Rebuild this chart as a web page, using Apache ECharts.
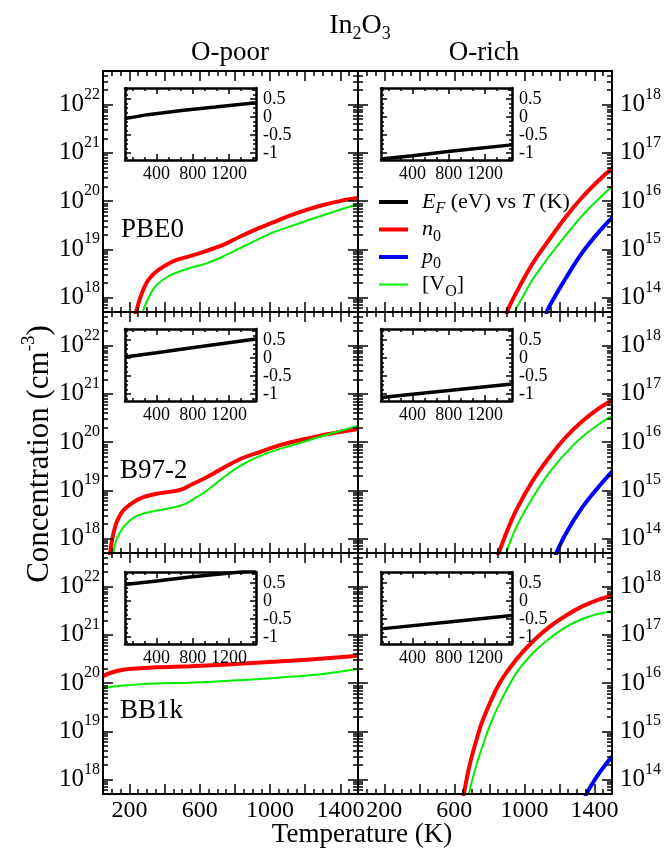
<!DOCTYPE html>
<html>
<head>
<meta charset="utf-8">
<script src="https://cdn.jsdelivr.net/npm/echarts@6/dist/echarts.min.js"></script>
</head>
<body style="margin:0;background:#fff">
<div id="main" style="width:664px;height:849px"></div>
<script>
// [T (K), concentration (cm^-3)]
var pbe0PoorN0 = [[232,4.1e17],[241,5.4e17],[260,9.5e17],[279,1.45e18],[307,2.3e18],[355,3.5e18],[412,4.8e18],[469,6.0e18],[544,7.2e18],[639,9.3e18],[733,1.23e19],[828,1.82e19],[923,2.63e19],[1017,3.63e19],[1112,5.0e19],[1207,6.6e19],[1302,8.3e19],[1397,1.0e20],[1500,1.17e20]];
var pbe0PoorVO = [[272,4.0e17],[279,5.4e17],[298,8.1e17],[327,1.32e18],[355,1.82e18],[412,2.63e18],[469,3.3e18],[544,4.1e18],[639,5.1e18],[733,7.1e18],[828,1.05e19],[923,1.55e19],[1017,2.24e19],[1112,2.95e19],[1207,3.9e19],[1302,5.1e19],[1397,6.6e19],[1500,8.7e19]];
var b972PoorN0 = [[87,4.0e17],[90,5.0e17],[99,8.3e17],[109,1.26e18],[128,2.2e18],[165,3.8e18],[222,5.6e18],[279,7.2e18],[355,8.5e18],[450,9.5e18],[506,1.07e19],[544,1.26e19],[639,1.86e19],[733,2.9e19],[828,4.4e19],[923,5.9e19],[1017,7.8e19],[1112,9.8e19],[1207,1.17e20],[1302,1.41e20],[1397,1.62e20],[1500,1.86e20]];
var b972PoorVO = [[106,4.0e17],[109,5.0e17],[118,7.6e17],[128,9.8e17],[147,1.35e18],[165,1.7e18],[222,2.7e18],[279,3.3e18],[355,3.8e18],[450,4.4e18],[506,5.0e18],[544,5.9e18],[639,9.8e18],[733,1.82e19],[828,3.16e19],[923,4.8e19],[1017,6.5e19],[1112,8.3e19],[1207,1.05e20],[1302,1.35e20],[1397,1.7e20],[1500,2.19e20]];
var bb1kPoorN0 = [[50,1.38e20],[90,1.62e20],[165,1.9e20],[260,2.04e20],[355,2.14e20],[544,2.24e20],[733,2.4e20],[923,2.63e20],[1112,2.9e20],[1302,3.24e20],[1500,3.7e20]];
var bb1kPoorVO = [[50,7.6e19],[90,8.3e19],[165,8.9e19],[355,9.8e19],[544,1.02e20],[733,1.1e20],[923,1.2e20],[1112,1.35e20],[1302,1.55e20],[1500,1.95e20]];
var pbe0RichN0 = [[895,4.0e13],[904,5.4e13],[952,1.23e14],[1046,5.0e14],[1141,1.58e15],[1236,4.7e15],[1330,1.2e16],[1425,2.7e16],[1500,4.8e16]];
var pbe0RichVO = [[940,4.0e13],[948,5.4e13],[989,1.0e14],[1046,2.34e14],[1141,7.1e14],[1236,1.95e15],[1330,5.0e15],[1425,1.12e16],[1500,2.0e16]];
var pbe0RichP0 = [[1124,4.0e13],[1131,5.4e13],[1179,1.12e14],[1236,2.5e14],[1330,8.5e14],[1425,2.3e15],[1500,4.5e15]];
var b972RichN0 = [[845,4.0e13],[853,5.0e13],[895,1.26e14],[952,3.8e14],[1046,1.55e15],[1141,4.8e15],[1236,1.26e16],[1330,2.7e16],[1425,5.0e16],[1500,7.4e16]];
var b972RichVO = [[887,4.0e13],[895,5.0e13],[952,1.66e14],[1046,6.9e14],[1141,2.3e15],[1236,5.9e15],[1330,1.29e16],[1425,2.34e16],[1500,3.5e16]];
var b972RichP0 = [[1175,4.0e13],[1182,5.0e13],[1236,1.26e14],[1330,4.4e14],[1425,1.2e15],[1500,2.45e15]];
var bb1kRichN0 = [[650,3.5e13],[654,4.9e13],[686,1.9e14],[724,6.2e14],[762,1.7e15],[857,9.8e15],[951,3.0e16],[1046,7.2e16],[1141,1.45e17],[1236,2.5e17],[1330,3.9e17],[1425,5.4e17],[1500,6.5e17]];
var bb1kRichVO = [[678,3.5e13],[682,4.9e13],[724,1.9e14],[762,5.0e14],[800,1.23e15],[857,3.7e15],[951,1.55e16],[1046,4.1e16],[1141,8.3e16],[1236,1.45e17],[1330,2.14e17],[1425,2.75e17],[1500,3.1e17]];
var bb1kRichP0 = [[1345,3.5e13],[1353,4.9e13],[1425,1.32e14],[1500,3.0e14]];

// insets: [T (K), E_F (eV)]
var pbe0PoorEF = [[50,-0.05],[300,0.06],[700,0.18],[1050,0.27],[1500,0.39]];
var b972PoorEF = [[50,0.02],[400,0.14],[770,0.27],[1500,0.52]];
var bb1kPoorEF = [[50,0.45],[400,0.55],[770,0.66],[1215,0.77],[1500,0.85]];
var pbe0RichEF = [[50,-1.17],[400,-1.08],[816,-0.96],[1500,-0.78]];
var b972RichEF = [[50,-1.10],[800,-0.91],[1500,-0.73]];
var bb1kRichEF = [[50,-0.78],[800,-0.59],[1500,-0.41]];

// ticks and labels
var xMajor = [200, 400, 600, 800, 1000, 1200, 1400];
var xMinor = [100, 150, 250, 300, 350, 450, 500, 550, 650, 700, 750, 850, 900, 950, 1050, 1100, 1150, 1250, 1300, 1350, 1450];
var xLabels = [200, 600, 1000, 1400];
var yExpPoor = [18, 19, 20, 21, 22];
var yExpRich = [14, 15, 16, 17, 18];
var yRangePoor = [5e17, 5e22];
var yRangeRich = [5e13, 5e18];
var insetXMajor = [400, 800, 1200];
var insetXMinor = [133.33, 266.67, 533.33, 666.67, 933.33, 1066.67, 1333.33, 1466.67];
var insetYMajor = [-1, -0.5, 0, 0.5];
var insetYMinor = [-1.125, -0.875, -0.75, -0.625, -0.375, -0.25, -0.125, 0.125, 0.25, 0.375, 0.625, 0.75];
var insetYRange = [-1.2, 0.8];

var FONT = 'Liberation Serif';
var colLeft = [103, 358], rowTop = [71, 312, 553], W = 255, H = 241;
var insetLeft = [125, 381], insetTop = [88, 329, 572], IW = 131, IH = 72;

var panels = [
  {col: 0, row: 0, curves: [['n0', pbe0PoorN0], ['VO', pbe0PoorVO]], ef: pbe0PoorEF},
  {col: 1, row: 0, curves: [['n0', pbe0RichN0], ['p0', pbe0RichP0], ['VO', pbe0RichVO]], ef: pbe0RichEF},
  {col: 0, row: 1, curves: [['n0', b972PoorN0], ['VO', b972PoorVO]], ef: b972PoorEF},
  {col: 1, row: 1, curves: [['n0', b972RichN0], ['p0', b972RichP0], ['VO', b972RichVO]], ef: b972RichEF},
  {col: 0, row: 2, curves: [['n0', bb1kPoorN0], ['VO', bb1kPoorVO]], ef: bb1kPoorEF},
  {col: 1, row: 2, curves: [['n0', bb1kRichN0], ['p0', bb1kRichP0], ['VO', bb1kRichVO]], ef: bb1kRichEF}
];

var lineColors = {n0: '#ff0000', p0: '#0000ff', VO: '#00ee00', EF: '#000000'};
var lineWidths = {n0: 4, p0: 4, VO: 2, EF: 3.5};

function logMinor(lo, hi) {
  var a = Math.log10(lo), b = Math.log10(hi), out = [];
  for (var n = Math.floor(a); n < Math.ceil(b); n++) {
    for (var k = 2; k <= 9; k++) {
      var v = n + Math.log10(k);
      if (v >= a - 1e-9 && v <= b + 1e-9) out.push(v);
    }
  }
  return out;
}

var supRich = {sup: {fontFamily: FONT, fontSize: 16, color: '#000', padding: [0, 0, 20, 0]}};
var subRich = {
  sub: {fontFamily: FONT, fontSize: 16, color: '#000', padding: [14, 0, 0, 0]},
  isub: {fontFamily: FONT, fontSize: 16, fontStyle: 'italic', color: '#000', padding: [14, 0, 0, 0]},
  i: {fontFamily: FONT, fontSize: 22, fontStyle: 'italic', color: '#000'}
};

var grids = [], xAxes = [], yAxes = [], series = [];

function tickAxis(g, pos, min, max, ticks, len, showLine, lineW, labels, label) {
  var ax = {
    type: 'value', gridIndex: g, position: pos, min: min, max: max,
    axisLine: {show: showLine, onZero: false, lineStyle: {color: '#000', width: lineW}},
    axisTick: {show: true, inside: true, length: len, customValues: ticks, lineStyle: {color: '#000', width: 1.5}},
    axisLabel: {show: false},
    splitLine: {show: false},
    z: 5
  };
  if (labels) {
    ax.axisLabel = Object.assign({show: true, customValues: labels, color: '#000', fontFamily: FONT}, label);
  }
  return ax;
}

panels.forEach(function (p) {
  var g = grids.length;
  grids.push({left: colLeft[p.col], top: rowTop[p.row], width: W, height: H});
  var range = p.col === 0 ? yRangePoor : yRangeRich;
  var exps = p.col === 0 ? yExpPoor : yExpRich;
  var lo = Math.log10(range[0]), hi = Math.log10(range[1]);
  var bottomRow = p.row === 2;
  var xi = xAxes.length, yi = yAxes.length;

  xAxes.push(tickAxis(g, 'bottom', 50, 1500, xMajor, 10, true, 2,
    bottomRow ? xLabels : null, {fontSize: 24, margin: 5, formatter: function (v) { return String(v); }}));
  xAxes.push(tickAxis(g, 'bottom', 50, 1500, xMinor, 5, false, 2));
  xAxes.push(tickAxis(g, 'top', 50, 1500, xMajor, 10, true, 2));
  xAxes.push(tickAxis(g, 'top', 50, 1500, xMinor, 5, false, 2));

  // data axis (log), hidden; the overlay axes below draw its ticks
  yAxes.push({type: 'log', logBase: 10, gridIndex: g, min: range[0], max: range[1], show: false});
  var fmt = function (v) { return '10{sup|' + Math.round(v) + '}'; };
  yAxes.push(tickAxis(g, 'left', lo, hi, exps, 10, true, 2,
    p.col === 0 ? exps : null, {fontSize: 25, margin: 3, formatter: fmt, rich: supRich}));
  yAxes.push(tickAxis(g, 'left', lo, hi, logMinor(range[0], range[1]), 5, false, 2));
  yAxes.push(tickAxis(g, 'right', lo, hi, exps, 10, true, 2,
    p.col === 1 ? exps : null, {fontSize: 25, margin: 8, formatter: fmt, rich: supRich}));
  yAxes.push(tickAxis(g, 'right', lo, hi, logMinor(range[0], range[1]), 5, false, 2));

  p.curves.forEach(function (c) {
    series.push({
      type: 'line', name: c[0], xAxisIndex: xi, yAxisIndex: yi, data: c[1],
      symbol: 'none', smooth: 0.35, silent: true, z: 3,
      lineStyle: {color: lineColors[c[0]], width: lineWidths[c[0]]},
      itemStyle: {color: lineColors[c[0]]}
    });
  });

  // inset: Fermi level vs temperature
  var ig = grids.length;
  grids.push({left: insetLeft[p.col], top: insetTop[p.row], width: IW, height: IH});
  var ixi = xAxes.length, iyi = yAxes.length;
  xAxes.push(tickAxis(ig, 'bottom', 50, 1500, insetXMajor, 6, true, 2.5,
    insetXMajor, {fontSize: 18, margin: 5, formatter: function (v) { return String(v); }}));
  xAxes.push(tickAxis(ig, 'bottom', 50, 1500, insetXMinor, 3, false, 2.5));
  xAxes.push(tickAxis(ig, 'top', 50, 1500, insetXMajor, 6, true, 2.5));
  xAxes.push(tickAxis(ig, 'top', 50, 1500, insetXMinor, 3, false, 2.5));
  yAxes.push(tickAxis(ig, 'right', insetYRange[0], insetYRange[1], insetYMajor, 6, true, 2.5,
    insetYMajor, {fontSize: 18, margin: 7, formatter: function (v) { return String(v); }}));
  yAxes.push(tickAxis(ig, 'right', insetYRange[0], insetYRange[1], insetYMinor, 3, false, 2.5));
  yAxes.push(tickAxis(ig, 'left', insetYRange[0], insetYRange[1], insetYMajor, 6, true, 2.5));
  yAxes.push(tickAxis(ig, 'left', insetYRange[0], insetYRange[1], insetYMinor, 3, false, 2.5));
  series.push({
    type: 'line', name: 'EF', xAxisIndex: ixi, yAxisIndex: iyi, data: p.ef,
    symbol: 'none', silent: true, z: 3,
    lineStyle: {color: '#000', width: lineWidths.EF}, itemStyle: {color: '#000'}
  });
});

function text(x, y, t, size, align, rich, rotation) {
  return {
    type: 'text', x: x, y: y, rotation: rotation || 0, silent: true,
    style: {text: t, fontFamily: FONT, fontSize: size, fill: '#000', align: align || 'center', verticalAlign: 'middle', rich: rich}
  };
}

var titleRich = {s: {fontFamily: FONT, fontSize: 18, fill: '#000', padding: [16, 0, 0, 0]}};
var ytRich = {s: {fontFamily: FONT, fontSize: 19, fill: '#000', padding: [0, 0, 22, 0]}};

var legendIcon = {
  thick: 'path://M0,0H29V4H0Z',
  thin: 'path://M0,0H29V2H0Z'
};

var option = {
  animation: false,
  backgroundColor: '#ffffff',
  grid: grids,
  xAxis: xAxes,
  yAxis: yAxes,
  series: series,
  legend: {
    orient: 'vertical', left: 374, top: 186, itemWidth: 29, itemHeight: 14, itemGap: 1.5,
    selectedMode: false, symbolKeepAspect: true,
    data: [
      {name: 'EF', icon: legendIcon.thick},
      {name: 'n0', icon: legendIcon.thick},
      {name: 'p0', icon: legendIcon.thick},
      {name: 'VO', icon: legendIcon.thin}
    ],
    formatter: function (name) {
      return {
        EF: '{i|E}{isub|F} (eV) vs {i|T} (K)',
        n0: '{i|n}{sub|0}',
        p0: '{i|p}{sub|0}',
        VO: '[V{sub|O}]'
      }[name];
    },
    textStyle: {fontFamily: FONT, fontSize: 22, color: '#000', padding: [0, 0, 0, 9], rich: subRich}
  },
  graphic: {
    elements: [
      text(360, 26, 'In{s|2}O{s|3}', 28, 'center', titleRich),
      text(230, 53, 'O-poor', 27),
      text(484, 53, 'O-rich', 27),
      text(362, 835, 'Temperature (K)', 27),
      text(40, 454, 'Concentration (cm{s|-3})', 31, 'center', ytRich, Math.PI / 2),
      text(121, 230, 'PBE0', 27, 'left'),
      text(120, 471, 'B97-2', 27, 'left'),
      text(120, 711, 'BB1k', 27, 'left')
    ]
  }
};

var chart = echarts.init(document.getElementById('main'), null, {renderer: 'canvas'});
chart.setOption(option);
</script>
</body>
</html>
